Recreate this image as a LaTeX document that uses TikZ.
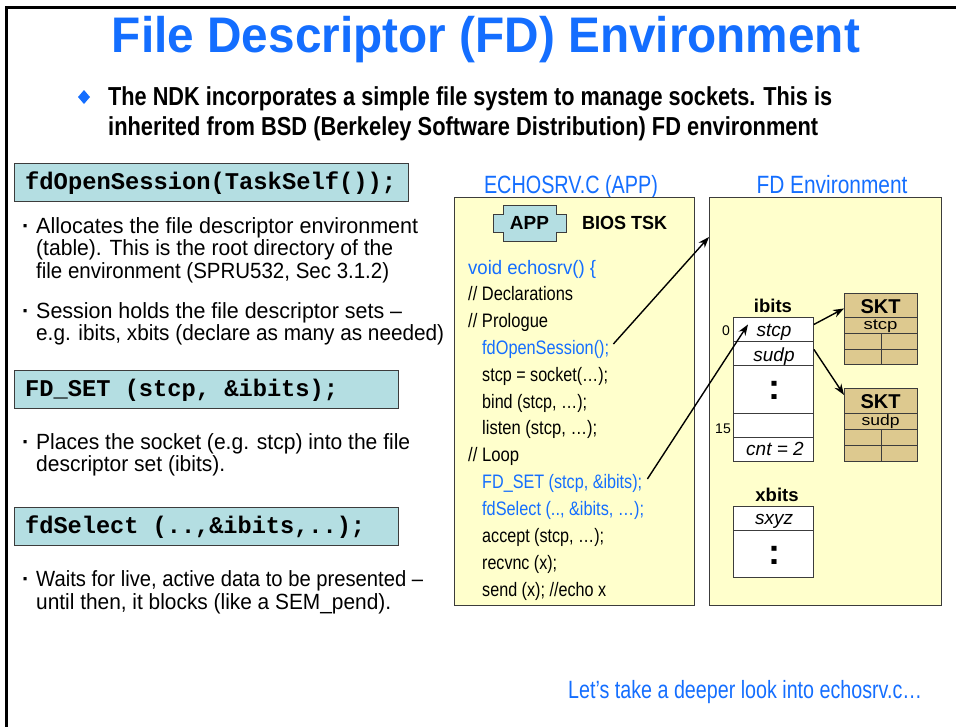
\documentclass[tikz,border=0pt]{standalone}
\usepackage{fontspec}
\usepackage{graphicx}
\setmainfont{Liberation Sans}
\setmonofont{Liberation Mono}
\usetikzlibrary{arrows.meta,calc}
\definecolor{tiblue}{RGB}{20,110,255}
\definecolor{cmdfill}{RGB}{180,222,226}
\definecolor{panelfill}{RGB}{255,255,204}
\definecolor{sktfill}{RGB}{221,201,143}
\definecolor{edgegray}{RGB}{60,60,60}
\newcommand\fw[2]{\resizebox{#1pt}{\height}{#2}}
\newcommand\fsz[1]{\fontsize{#1}{#1}\selectfont}
\tikzset{
  txt/.style={anchor=base west, inner sep=0pt},
  ctxt/.style={anchor=base, inner sep=0pt},
  cmdbox/.style={draw=edgegray, fill=cmdfill, line width=1pt, anchor=north west, inner sep=0pt},
  panel/.style={draw=edgegray, fill=panelfill, line width=1pt, anchor=north west, inner sep=0pt},
  cell/.style={draw=edgegray, fill=white, line width=0.9pt, anchor=north west, inner sep=0pt},
  sktcell/.style={draw=edgegray, fill=sktfill, line width=0.9pt, anchor=north west, inner sep=0pt},
  lefttxt/.style={txt, font=\fsz{22}},
  bul/.style={txt, font=\fsz{22}\bfseries},
  cmdtxt/.style={txt, font=\fsz{24}\ttfamily\bfseries},
  codetxt/.style={txt, font=\fsz{19.5}},
  bluecode/.style={codetxt, text=tiblue},
  arr/.style={-{Stealth[length=11pt,width=8pt]}, line width=1.4pt, black},
}
\begin{document}
\begin{tikzpicture}[x=1pt,y=-1pt]
\useasboundingbox (0,0) rectangle (956,726);
% frame
\draw[line width=3pt] (6,730) -- (6,7) -- (960,7);

% title
\node[ctxt, text=tiblue, font=\fsz{50}\bfseries] (title) at (486,52) {\fw{748}{File Descriptor (FD) Environment}};

% intro
\fill[tiblue] (84,90) -- (90,97) -- (84,104) -- (78,97) -- cycle;
\node[txt, font=\fsz{26}\bfseries] (intro1) at (108,105) {\fw{724}{The NDK incorporates a simple file system to manage sockets. This is}};
\node[txt, font=\fsz{26}\bfseries] (intro2) at (108,135) {\fw{710}{inherited from BSD (Berkeley Software Distribution) FD environment}};

% left column
\node[cmdbox, minimum width=394pt, minimum height=38pt] (b1) at (14,163) {};
\node[cmdtxt] (b1t) at (25,189) {\fw{371}{fdOpenSession(TaskSelf());}};
\node[bul] (d1) at (22,233) {·};
\node[lefttxt] (l1) at (36,233) {\fw{382}{Allocates the file descriptor environment}};
\node[lefttxt] (l2) at (36,255) {\fw{357}{(table). This is the root directory of the}};
\node[lefttxt] (l3) at (36,278) {\fw{353}{file environment (SPRU532, Sec 3.1.2)}};
\node[bul] (d2) at (22,318) {·};
\node[lefttxt] (l4) at (36,318) {\fw{366}{Session holds the file descriptor sets –}};
\node[lefttxt] (l5) at (36,340) {\fw{408}{e.g. ibits, xbits (declare as many as needed)}};

\node[cmdbox, minimum width=384pt, minimum height=38pt] (b2) at (14,370) {};
\node[cmdtxt] (b2t) at (25,396) {\fw{313}{FD\_SET (stcp, \&ibits);}};
\node[bul] (d3) at (22,449) {·};
\node[lefttxt] (l6) at (36,449) {\fw{374}{Places the socket (e.g. stcp) into the file}};
\node[lefttxt] (l7) at (36,471) {\fw{189}{descriptor set (ibits).}};

\node[cmdbox, minimum width=384pt, minimum height=38pt] (b3) at (14,507) {};
\node[cmdtxt] (b3t) at (25,533) {\fw{340}{fdSelect (..,\&ibits,..);}};
\node[bul] (d4) at (22,586) {·};
\node[lefttxt] (l8) at (36,586) {\fw{387}{Waits for live, active data to be presented –}};
\node[lefttxt] (l9) at (36,609) {\fw{355}{until then, it blocks (like a SEM\_pend).}};

% middle panel
\node[ctxt, text=tiblue, font=\fsz{25}] (apphead) at (571,193) {\fw{174}{ECHOSRV.C (APP)}};
\node[panel, minimum width=240pt, minimum height=408pt] (app) at (454,197) {};
\draw[draw=edgegray, fill=cmdfill, line width=1pt]
  (503,205) -- (556,205) -- (556,214) -- (566,214) -- (566,232) -- (556,232) -- (556,241)
  -- (503,241) -- (503,232) -- (493,232) -- (493,214) -- (503,214) -- cycle;
\node[ctxt, font=\fsz{19}\bfseries] (apptxt) at (529.5,229.5) {APP};
\node[txt, font=\fsz{19}\bfseries] (bios) at (582,229.5) {\fw{85}{BIOS TSK}};

\node[bluecode] (c1) at (468,274) {\fw{128}{void echosrv() \{}};
\node[codetxt] (c2) at (468,300.5) {\fw{105}{// Declarations}};
\node[codetxt] (c3) at (468,327) {\fw{80}{// Prologue}};
\node[bluecode] (c4) at (482,354) {\fw{127}{fdOpenSession();}};
\node[codetxt] (c5) at (482,381) {\fw{126}{stcp = socket(…);}};
\node[codetxt] (c6) at (482,408) {\fw{105}{bind (stcp, …);}};
\node[codetxt] (c7) at (482,434) {\fw{115}{listen (stcp, …);}};
\node[codetxt] (c8) at (468,461) {\fw{51}{// Loop}};
\node[bluecode] (c9) at (482,488) {\fw{160}{FD\_SET (stcp, \&ibits);}};
\node[bluecode] (c10) at (482,515) {\fw{162}{fdSelect (.., \&ibits, …);}};
\node[codetxt] (c11) at (482,542) {\fw{122}{accept (stcp, …);}};
\node[codetxt] (c12) at (482,569) {\fw{75}{recvnc (x);}};
\node[codetxt] (c13) at (482,596) {\fw{124}{send (x); //echo x}};

% right panel
\node[ctxt, text=tiblue, font=\fsz{25}] (fdhead) at (832,193) {\fw{151}{FD Environment}};
\node[panel, minimum width=232pt, minimum height=408pt] (fd) at (709,197) {};

\node[ctxt, font=\fsz{18.5}\bfseries] (ibl) at (773,312) {ibits};
\node[cell, minimum width=80pt, minimum height=24pt] (ibs) at (733,317) {};
\node[cell, minimum width=80pt, minimum height=24pt] (ibu) at (733,341) {};
\node[cell, minimum width=80pt, minimum height=48pt] (ibd) at (733,365) {};
\node[cell, minimum width=80pt, minimum height=24pt] (ib15) at (733,413) {};
\node[cell, minimum width=80pt, minimum height=24pt] (ibc) at (733,437) {};
\node[ctxt, font=\fsz{19}\itshape] (ibst) at (774,336) {stcp};
\node[ctxt, font=\fsz{19}\itshape] (ibut) at (774,361) {sudp};
\node[ctxt, font=\fsz{36}\bfseries] (ibdt) at (774,399) {:};
\node[ctxt, font=\fsz{19}\itshape] (ibct) at (775,455) {cnt = 2};
\node[ctxt, font=\fsz{14}] (i0) at (726,335) {0};
\node[ctxt, font=\fsz{14}] (i15) at (723,433) {15};

\node[ctxt, font=\fsz{18.5}\bfseries] (xbl) at (777,501) {xbits};
\node[cell, minimum width=80pt, minimum height=24pt] (xbs) at (733,506) {};
\node[cell, minimum width=80pt, minimum height=47pt] (xbd) at (733,530) {};
\node[ctxt, font=\fsz{19}\itshape] (xbst) at (774,524) {sxyz};
\node[ctxt, font=\fsz{36}\bfseries] (xbdt) at (774,564) {:};

% SKT 1
\node[sktcell, minimum width=73pt, minimum height=24pt] (skt1h) at (844,293) {};
\node[sktcell, minimum width=73pt, minimum height=16pt] (skt1s) at (844,317) {};
\node[sktcell, minimum width=36.5pt, minimum height=15.5pt] (skt1a) at (844,333) {};
\node[sktcell, minimum width=36.5pt, minimum height=15.5pt] (skt1b) at (880.5,333) {};
\node[sktcell, minimum width=36.5pt, minimum height=15.5pt] (skt1c) at (844,348.5) {};
\node[sktcell, minimum width=36.5pt, minimum height=15.5pt] (skt1d) at (880.5,348.5) {};
\node[ctxt, font=\fsz{20}\bfseries] (skt1t) at (880.5,313) {SKT};
\node[ctxt, font=\fsz{15}] (skt1u) at (880.5,329.5) {\fw{34}{stcp}};

% SKT 2
\node[sktcell, minimum width=73pt, minimum height=25pt] (skt2h) at (844,388) {};
\node[sktcell, minimum width=73pt, minimum height=16pt] (skt2s) at (844,413) {};
\node[sktcell, minimum width=36.5pt, minimum height=16pt] (skt2a) at (844,429) {};
\node[sktcell, minimum width=36.5pt, minimum height=16pt] (skt2b) at (880.5,429) {};
\node[sktcell, minimum width=36.5pt, minimum height=16pt] (skt2c) at (844,445) {};
\node[sktcell, minimum width=36.5pt, minimum height=16pt] (skt2d) at (880.5,445) {};
\node[ctxt, font=\fsz{20}\bfseries] (skt2t) at (880.5,408) {SKT};
\node[ctxt, font=\fsz{15}] (skt2u) at (880.5,425.5) {\fw{38}{sudp}};

% connectors
\coordinate (fdhit) at (fd.west |- 0,237);
\draw[arr] ($(c4.east)+(4,-5)$) -- (fdhit);
\draw[arr] ($(c9.east)+(5,-4)$) -- ($(ibs.west)+(15,-5)$);
\draw[arr] ($(ibs.east)+(0,-5)$) -- ($(skt1h.west)+(0,3)$);
\draw[arr] ($(ibu.east)+(0,-4)$) -- ($(skt2h.west)+(0,-6)$);

% bottom
\node[txt, text=tiblue, font=\fsz{25}] (next) at (568,698) {\fw{354}{Let’s take a deeper look into echosrv.c…}};
\end{tikzpicture}
\end{document}
